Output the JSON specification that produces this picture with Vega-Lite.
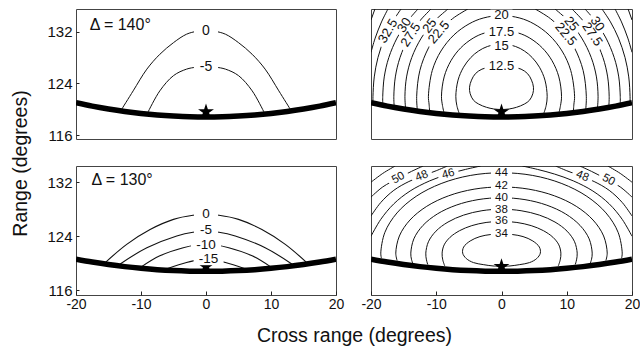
{
  "$schema": "https://vega.github.io/schema/vega-lite/v6.json",
  "padding": {"left": 9, "top": 8, "right": 9, "bottom": 2},
  "background": "white",
  "config": {
    "font": "Liberation Sans",
    "view": {"stroke": "#444", "strokeWidth": 1},
    "axis": {"labelFont": "Liberation Sans", "titleFont": "Liberation Sans", "labelFontSize": 15, "labelColor": "#111", "tickColor": "#222", "tickWidth": 1, "titleFontWeight": "normal", "titleFontSize": 19.5, "titleColor": "#111", "labelOverlap": false}
  },
  "datasets": {
    "baseTop": [
      {"x": -20, "y": 121.0}, {"x": -17.5, "y": 120.48}, {"x": -15, "y": 120.04}, {"x": -12.5, "y": 119.66}, {"x": -10, "y": 119.35}, {"x": -7.5, "y": 119.11}, {"x": -5, "y": 118.94}, {"x": -2.5, "y": 118.83}, {"x": 0, "y": 118.8},
      {"x": 2.5, "y": 118.83}, {"x": 5, "y": 118.94}, {"x": 7.5, "y": 119.11}, {"x": 10, "y": 119.35}, {"x": 12.5, "y": 119.66}, {"x": 15, "y": 120.04}, {"x": 17.5, "y": 120.48}, {"x": 20, "y": 121.0}
    ],
    "baseBot": [
      {"x": -20, "y": 120.6}, {"x": -17.5, "y": 120.18}, {"x": -15, "y": 119.81}, {"x": -12.5, "y": 119.5}, {"x": -10, "y": 119.25}, {"x": -7.5, "y": 119.05}, {"x": -5, "y": 118.91}, {"x": -2.5, "y": 118.83}, {"x": 0, "y": 118.8},
      {"x": 2.5, "y": 118.83}, {"x": 5, "y": 118.91}, {"x": 7.5, "y": 119.05}, {"x": 10, "y": 119.25}, {"x": 12.5, "y": 119.5}, {"x": 15, "y": 119.81}, {"x": 17.5, "y": 120.18}, {"x": 20, "y": 120.6}
    ],
    "tl": [
      {"c": "a", "x": -12.97, "y": 120.0}, {"c": "a", "x": -11.2, "y": 122.85}, {"c": "a", "x": -9.1, "y": 126.2}, {"c": "a", "x": -7.1, "y": 128.5}, {"c": "a", "x": -5.0, "y": 130.3}, {"c": "a", "x": -3.0, "y": 131.6}, {"c": "a", "x": -1.4, "y": 132.05}, {"c": "a", "x": 0, "y": 132.15}, {"c": "a", "x": 1.4, "y": 132.05}, {"c": "a", "x": 3.0, "y": 131.6}, {"c": "a", "x": 5.0, "y": 130.3}, {"c": "a", "x": 7.1, "y": 128.5}, {"c": "a", "x": 9.1, "y": 126.2}, {"c": "a", "x": 11.2, "y": 122.85}, {"c": "a", "x": 12.97, "y": 120.0},
      {"c": "b", "x": -8.9, "y": 119.6}, {"c": "b", "x": -7.1, "y": 122.85}, {"c": "b", "x": -5.0, "y": 125.2}, {"c": "b", "x": -3.0, "y": 126.2}, {"c": "b", "x": -1.5, "y": 126.5}, {"c": "b", "x": 0, "y": 126.6}, {"c": "b", "x": 1.5, "y": 126.5}, {"c": "b", "x": 3.0, "y": 126.2}, {"c": "b", "x": 5.0, "y": 125.2}, {"c": "b", "x": 7.1, "y": 122.85}, {"c": "b", "x": 8.9, "y": 119.6}
    ],
    "tlL": [
      {"t": "0", "x": 0, "y": 132.1, "a": 0}, {"t": "-5", "x": 0, "y": 126.5, "a": 0}
    ],
    "tr": [
      {"c": "12", "x": 0, "y": 119.95}, {"c": "12", "x": -1.2, "y": 120.05}, {"c": "12", "x": -2.3, "y": 120.3}, {"c": "12", "x": -3.5, "y": 120.8}, {"c": "12", "x": -4.3, "y": 121.4}, {"c": "12", "x": -4.8, "y": 122.4}, {"c": "12", "x": -4.9, "y": 123.4}, {"c": "12", "x": -4.6, "y": 124.5}, {"c": "12", "x": -4.0, "y": 125.5}, {"c": "12", "x": -3.0, "y": 126.2}, {"c": "12", "x": -1.6, "y": 126.55}, {"c": "12", "x": 0, "y": 126.65}, {"c": "12", "x": 1.6, "y": 126.55}, {"c": "12", "x": 3.0, "y": 126.2}, {"c": "12", "x": 4.0, "y": 125.5}, {"c": "12", "x": 4.6, "y": 124.5}, {"c": "12", "x": 4.9, "y": 123.4}, {"c": "12", "x": 4.8, "y": 122.4}, {"c": "12", "x": 4.3, "y": 121.4}, {"c": "12", "x": 3.5, "y": 120.8}, {"c": "12", "x": 2.3, "y": 120.3}, {"c": "12", "x": 1.2, "y": 120.05}, {"c": "12", "x": 0, "y": 119.95},
      {"c": "15", "x": -6.5, "y": 119.4}, {"c": "15", "x": -6.85, "y": 120.6}, {"c": "15", "x": -7.0, "y": 122}, {"c": "15", "x": -6.66, "y": 124.5}, {"c": "15", "x": -5.82, "y": 126.5}, {"c": "15", "x": -4.7, "y": 128}, {"c": "15", "x": -3.52, "y": 129}, {"c": "15", "x": -2.16, "y": 129.7}, {"c": "15", "x": 0, "y": 130.1}, {"c": "15", "x": 2.16, "y": 129.7}, {"c": "15", "x": 3.52, "y": 129}, {"c": "15", "x": 4.7, "y": 128}, {"c": "15", "x": 5.82, "y": 126.5}, {"c": "15", "x": 6.66, "y": 124.5}, {"c": "15", "x": 7.0, "y": 122}, {"c": "15", "x": 6.85, "y": 120.6}, {"c": "15", "x": 6.5, "y": 119.4},
      {"c": "17", "x": -8.8, "y": 119.4}, {"c": "17", "x": -9.05, "y": 120.6}, {"c": "17", "x": -9.2, "y": 122}, {"c": "17", "x": -8.79, "y": 125}, {"c": "17", "x": -7.75, "y": 127.5}, {"c": "17", "x": -6.24, "y": 129.5}, {"c": "17", "x": -4.34, "y": 131}, {"c": "17", "x": -2.55, "y": 131.8}, {"c": "17", "x": 0, "y": 132.2}, {"c": "17", "x": 2.55, "y": 131.8}, {"c": "17", "x": 4.34, "y": 131}, {"c": "17", "x": 6.24, "y": 129.5}, {"c": "17", "x": 7.75, "y": 127.5}, {"c": "17", "x": 8.79, "y": 125}, {"c": "17", "x": 9.2, "y": 122}, {"c": "17", "x": 9.05, "y": 120.6}, {"c": "17", "x": 8.8, "y": 119.4},
      {"c": "20", "x": -11.0, "y": 119.6}, {"c": "20", "x": -11.1, "y": 120.8}, {"c": "20", "x": -11.2, "y": 122}, {"c": "20", "x": -10.61, "y": 126}, {"c": "20", "x": -9.28, "y": 129}, {"c": "20", "x": -7.28, "y": 131.5}, {"c": "20", "x": -4.97, "y": 133.2}, {"c": "20", "x": -2.81, "y": 134.1}, {"c": "20", "x": 0, "y": 134.5}, {"c": "20", "x": 2.81, "y": 134.1}, {"c": "20", "x": 4.97, "y": 133.2}, {"c": "20", "x": 7.28, "y": 131.5}, {"c": "20", "x": 9.28, "y": 129}, {"c": "20", "x": 10.61, "y": 126}, {"c": "20", "x": 11.2, "y": 122}, {"c": "20", "x": 11.1, "y": 120.8}, {"c": "20", "x": 11.0, "y": 119.6},
      {"c": "22L", "x": -12.9, "y": 119.85}, {"c": "22L", "x": -13.0, "y": 122}, {"c": "22L", "x": -12.51, "y": 126}, {"c": "22L", "x": -11.18, "y": 129.5}, {"c": "22L", "x": -9.53, "y": 132}, {"c": "22L", "x": -7.51, "y": 134}, {"c": "22L", "x": -5.16, "y": 135.5},
      {"c": "22R", "x": 12.9, "y": 119.85}, {"c": "22R", "x": 13.0, "y": 122}, {"c": "22R", "x": 12.51, "y": 126}, {"c": "22R", "x": 11.18, "y": 129.5}, {"c": "22R", "x": 9.53, "y": 132}, {"c": "22R", "x": 7.51, "y": 134}, {"c": "22R", "x": 5.16, "y": 135.5},
      {"c": "25L", "x": -14.7, "y": 120.1}, {"c": "25L", "x": -14.8, "y": 122}, {"c": "25L", "x": -14.55, "y": 125}, {"c": "25L", "x": -13.75, "y": 128}, {"c": "25L", "x": -12.3, "y": 131}, {"c": "25L", "x": -10.42, "y": 133.5}, {"c": "25L", "x": -8.2, "y": 135.5},
      {"c": "25R", "x": 14.7, "y": 120.1}, {"c": "25R", "x": 14.8, "y": 122}, {"c": "25R", "x": 14.55, "y": 125}, {"c": "25R", "x": 13.75, "y": 128}, {"c": "25R", "x": 12.3, "y": 131}, {"c": "25R", "x": 10.42, "y": 133.5}, {"c": "25R", "x": 8.2, "y": 135.5},
      {"c": "27L", "x": -16.45, "y": 120.45}, {"c": "27L", "x": -16.5, "y": 122}, {"c": "27L", "x": -16.27, "y": 125}, {"c": "27L", "x": -15.55, "y": 128}, {"c": "27L", "x": -14.26, "y": 131}, {"c": "27L", "x": -12.65, "y": 133.5}, {"c": "27L", "x": -10.8, "y": 135.5},
      {"c": "27R", "x": 16.45, "y": 120.45}, {"c": "27R", "x": 16.5, "y": 122}, {"c": "27R", "x": 16.27, "y": 125}, {"c": "27R", "x": 15.55, "y": 128}, {"c": "27R", "x": 14.26, "y": 131}, {"c": "27R", "x": 12.65, "y": 133.5}, {"c": "27R", "x": 10.8, "y": 135.5},
      {"c": "30L", "x": -18.2, "y": 120.8}, {"c": "30L", "x": -18.2, "y": 122}, {"c": "30L", "x": -17.97, "y": 125}, {"c": "30L", "x": -17.27, "y": 128}, {"c": "30L", "x": -16.02, "y": 131}, {"c": "30L", "x": -14.49, "y": 133.5}, {"c": "30L", "x": -12.8, "y": 135.5},
      {"c": "30R", "x": 18.2, "y": 120.8}, {"c": "30R", "x": 18.2, "y": 122}, {"c": "30R", "x": 17.97, "y": 125}, {"c": "30R", "x": 17.27, "y": 128}, {"c": "30R", "x": 16.02, "y": 131}, {"c": "30R", "x": 14.49, "y": 133.5}, {"c": "30R", "x": 12.8, "y": 135.5},
      {"c": "32L", "x": -19.7, "y": 121.1}, {"c": "32L", "x": -19.7, "y": 122}, {"c": "32L", "x": -19.5, "y": 125}, {"c": "32L", "x": -18.93, "y": 128}, {"c": "32L", "x": -17.93, "y": 131}, {"c": "32L", "x": -16.7, "y": 133.5}, {"c": "32L", "x": -15.4, "y": 135.5},
      {"c": "32R", "x": 19.7, "y": 121.1}, {"c": "32R", "x": 19.7, "y": 122}, {"c": "32R", "x": 19.5, "y": 125}, {"c": "32R", "x": 18.93, "y": 128}, {"c": "32R", "x": 17.93, "y": 131}, {"c": "32R", "x": 16.7, "y": 133.5}, {"c": "32R", "x": 15.4, "y": 135.5},
      {"c": "35L", "x": -20, "y": 128.8}, {"c": "35L", "x": -19.36, "y": 131}, {"c": "35L", "x": -18.39, "y": 133.5}, {"c": "35L", "x": -17.4, "y": 135.5},
      {"c": "35R", "x": 20, "y": 128.8}, {"c": "35R", "x": 19.36, "y": 131}, {"c": "35R", "x": 18.39, "y": 133.5}, {"c": "35R", "x": 17.4, "y": 135.5},
      {"c": "37L", "x": -20, "y": 133.8}, {"c": "37L", "x": -19.4, "y": 135.5},
      {"c": "37R", "x": 20, "y": 133.8}, {"c": "37R", "x": 19.4, "y": 135.5}
    ],
    "trL": [
      {"t": "20", "x": 0, "y": 134.55, "a": 0}, {"t": "17.5", "x": 0, "y": 131.95, "a": 0}, {"t": "15", "x": 0, "y": 129.85, "a": 0}, {"t": "12.5", "x": 0, "y": 126.65, "a": 0},
      {"t": "32.5", "x": -17.4, "y": 132.1, "a": -60}, {"t": "30", "x": -14.9, "y": 133.0, "a": -57}, {"t": "27.5", "x": -13.9, "y": 131.5, "a": -57}, {"t": "25", "x": -11.0, "y": 132.9, "a": -52}, {"t": "22.5", "x": -9.6, "y": 131.9, "a": -50},
      {"t": "22.5", "x": 9.85, "y": 131.6, "a": 50}, {"t": "25", "x": 10.7, "y": 133.2, "a": 52}, {"t": "27.5", "x": 13.9, "y": 131.6, "a": 56}, {"t": "30", "x": 14.7, "y": 133.2, "a": 57}
    ],
    "bl": [
      {"c": "0", "x": -15.5, "y": 120.1}, {"c": "0", "x": -12.2, "y": 122.8}, {"c": "0", "x": -8.6, "y": 125.0}, {"c": "0", "x": -5.0, "y": 126.5}, {"c": "0", "x": -2.0, "y": 127.1}, {"c": "0", "x": 0, "y": 127.25}, {"c": "0", "x": 2.0, "y": 127.1}, {"c": "0", "x": 5.0, "y": 126.5}, {"c": "0", "x": 8.6, "y": 125.0}, {"c": "0", "x": 12.2, "y": 122.8}, {"c": "0", "x": 15.5, "y": 120.1},
      {"c": "5", "x": -13.2, "y": 119.9}, {"c": "5", "x": -9.1, "y": 122.3}, {"c": "5", "x": -4.5, "y": 124.05}, {"c": "5", "x": -2.0, "y": 124.6}, {"c": "5", "x": 0, "y": 124.75}, {"c": "5", "x": 2.0, "y": 124.6}, {"c": "5", "x": 4.5, "y": 124.05}, {"c": "5", "x": 9.1, "y": 122.3}, {"c": "5", "x": 13.2, "y": 119.9},
      {"c": "10", "x": -9.9, "y": 119.5}, {"c": "10", "x": -7.1, "y": 121.1}, {"c": "10", "x": -3.5, "y": 122.3}, {"c": "10", "x": -1.5, "y": 122.7}, {"c": "10", "x": 0, "y": 122.8}, {"c": "10", "x": 1.5, "y": 122.7}, {"c": "10", "x": 3.5, "y": 122.3}, {"c": "10", "x": 7.1, "y": 121.1}, {"c": "10", "x": 9.9, "y": 119.5},
      {"c": "15", "x": -6.0, "y": 119.2}, {"c": "15", "x": -3.0, "y": 120.1}, {"c": "15", "x": -1.2, "y": 120.5}, {"c": "15", "x": 0, "y": 120.6}, {"c": "15", "x": 1.2, "y": 120.5}, {"c": "15", "x": 3.0, "y": 120.1}, {"c": "15", "x": 6.0, "y": 119.2}
    ],
    "blL": [
      {"t": "0", "x": 0, "y": 127.3, "a": 0}, {"t": "-5", "x": 0, "y": 124.9, "a": 0}, {"t": "-10", "x": 0, "y": 122.75, "a": 0}, {"t": "-15", "x": 0.4, "y": 120.6, "a": 0}
    ],
    "br": [
      {"c": "34", "x": 0, "y": 119.55}, {"c": "34", "x": -1.3, "y": 119.6}, {"c": "34", "x": -2.8, "y": 119.8}, {"c": "34", "x": -4.3, "y": 120.1}, {"c": "34", "x": -5.4, "y": 120.7}, {"c": "34", "x": -5.95, "y": 121.5}, {"c": "34", "x": -5.8, "y": 122.4}, {"c": "34", "x": -4.8, "y": 123.3}, {"c": "34", "x": -3.3, "y": 123.95}, {"c": "34", "x": -1.7, "y": 124.25}, {"c": "34", "x": 0, "y": 124.35}, {"c": "34", "x": 1.7, "y": 124.25}, {"c": "34", "x": 3.3, "y": 123.95}, {"c": "34", "x": 4.8, "y": 123.3}, {"c": "34", "x": 5.8, "y": 122.4}, {"c": "34", "x": 5.95, "y": 121.5}, {"c": "34", "x": 5.4, "y": 120.7}, {"c": "34", "x": 4.3, "y": 120.1}, {"c": "34", "x": 2.8, "y": 119.8}, {"c": "34", "x": 1.3, "y": 119.6}, {"c": "34", "x": 0, "y": 119.55},
      {"c": "36", "x": -8.7, "y": 119.6}, {"c": "36", "x": -9.0, "y": 120.5}, {"c": "36", "x": -9.1, "y": 121.5}, {"c": "36", "x": -8.79, "y": 122.72}, {"c": "36", "x": -7.88, "y": 123.85}, {"c": "36", "x": -6.43, "y": 124.82}, {"c": "36", "x": -4.55, "y": 125.57}, {"c": "36", "x": -2.36, "y": 126.04}, {"c": "36", "x": 0, "y": 126.2}, {"c": "36", "x": 2.36, "y": 126.04}, {"c": "36", "x": 4.55, "y": 125.57}, {"c": "36", "x": 6.43, "y": 124.82}, {"c": "36", "x": 7.88, "y": 123.85}, {"c": "36", "x": 8.79, "y": 122.72}, {"c": "36", "x": 9.1, "y": 121.5}, {"c": "36", "x": 9.0, "y": 120.5}, {"c": "36", "x": 8.7, "y": 119.6},
      {"c": "38", "x": -11.3, "y": 119.8}, {"c": "38", "x": -11.5, "y": 120.5}, {"c": "38", "x": -11.6, "y": 121.5}, {"c": "38", "x": -11.2, "y": 123.18}, {"c": "38", "x": -10.05, "y": 124.75}, {"c": "38", "x": -8.2, "y": 126.1}, {"c": "38", "x": -5.8, "y": 127.13}, {"c": "38", "x": -3.0, "y": 127.78}, {"c": "38", "x": 0, "y": 128.0}, {"c": "38", "x": 3.0, "y": 127.78}, {"c": "38", "x": 5.8, "y": 127.13}, {"c": "38", "x": 8.2, "y": 126.1}, {"c": "38", "x": 10.05, "y": 124.75}, {"c": "38", "x": 11.2, "y": 123.18}, {"c": "38", "x": 11.6, "y": 121.5}, {"c": "38", "x": 11.5, "y": 120.5}, {"c": "38", "x": 11.3, "y": 119.8},
      {"c": "40", "x": -13.6, "y": 120.0}, {"c": "40", "x": -13.8, "y": 120.6}, {"c": "40", "x": -13.9, "y": 121.5}, {"c": "40", "x": -13.43, "y": 123.62}, {"c": "40", "x": -12.04, "y": 125.6}, {"c": "40", "x": -9.83, "y": 127.3}, {"c": "40", "x": -6.95, "y": 128.6}, {"c": "40", "x": -3.6, "y": 129.42}, {"c": "40", "x": 0, "y": 129.7}, {"c": "40", "x": 3.6, "y": 129.42}, {"c": "40", "x": 6.95, "y": 128.6}, {"c": "40", "x": 9.83, "y": 127.3}, {"c": "40", "x": 12.04, "y": 125.6}, {"c": "40", "x": 13.43, "y": 123.62}, {"c": "40", "x": 13.9, "y": 121.5}, {"c": "40", "x": 13.8, "y": 120.6}, {"c": "40", "x": 13.6, "y": 120.0},
      {"c": "42", "x": -16.0, "y": 120.4}, {"c": "42", "x": -16.2, "y": 121.5}, {"c": "42", "x": -15.65, "y": 124.04}, {"c": "42", "x": -14.03, "y": 126.4}, {"c": "42", "x": -11.46, "y": 128.43}, {"c": "42", "x": -8.1, "y": 129.99}, {"c": "42", "x": -4.2, "y": 130.97}, {"c": "42", "x": 0, "y": 131.3}, {"c": "42", "x": 4.2, "y": 130.97}, {"c": "42", "x": 8.1, "y": 129.99}, {"c": "42", "x": 11.46, "y": 128.43}, {"c": "42", "x": 14.03, "y": 126.4}, {"c": "42", "x": 15.65, "y": 124.04}, {"c": "42", "x": 16.2, "y": 121.5}, {"c": "42", "x": 16.0, "y": 120.4},
      {"c": "44", "x": -18.4, "y": 120.75}, {"c": "44", "x": -18.5, "y": 121.5}, {"c": "44", "x": -17.87, "y": 124.58}, {"c": "44", "x": -16.02, "y": 127.45}, {"c": "44", "x": -13.08, "y": 129.91}, {"c": "44", "x": -9.25, "y": 131.8}, {"c": "44", "x": -4.79, "y": 133.0}, {"c": "44", "x": 0, "y": 133.4}, {"c": "44", "x": 4.79, "y": 133.0}, {"c": "44", "x": 9.25, "y": 131.8}, {"c": "44", "x": 13.08, "y": 129.91}, {"c": "44", "x": 16.02, "y": 127.45}, {"c": "44", "x": 17.87, "y": 124.58}, {"c": "44", "x": 18.5, "y": 121.5}, {"c": "44", "x": 18.4, "y": 120.75},
      {"c": "46L", "x": -20, "y": 124.0}, {"c": "46L", "x": -18.5, "y": 126.5}, {"c": "46L", "x": -16.5, "y": 128.8}, {"c": "46L", "x": -14, "y": 130.7}, {"c": "46L", "x": -11, "y": 132.2}, {"c": "46L", "x": -8.15, "y": 133.2}, {"c": "46L", "x": -5.5, "y": 133.9}, {"c": "46L", "x": -3.2, "y": 134.4},
      {"c": "46R", "x": 20, "y": 124.0}, {"c": "46R", "x": 18.5, "y": 126.5}, {"c": "46R", "x": 16.5, "y": 128.8}, {"c": "46R", "x": 14, "y": 130.7}, {"c": "46R", "x": 11, "y": 132.2}, {"c": "46R", "x": 8.15, "y": 133.2}, {"c": "46R", "x": 5.5, "y": 133.9}, {"c": "46R", "x": 3.2, "y": 134.4},
      {"c": "48L", "x": -20, "y": 127.0}, {"c": "48L", "x": -18.5, "y": 129.0}, {"c": "48L", "x": -16.5, "y": 130.8}, {"c": "48L", "x": -14.2, "y": 132.1}, {"c": "48L", "x": -12.2, "y": 132.9}, {"c": "48L", "x": -10, "y": 133.7}, {"c": "48L", "x": -8.3, "y": 134.4},
      {"c": "48R", "x": 20, "y": 127.0}, {"c": "48R", "x": 18.5, "y": 129.0}, {"c": "48R", "x": 16.5, "y": 130.8}, {"c": "48R", "x": 14.2, "y": 132.1}, {"c": "48R", "x": 12.2, "y": 132.9}, {"c": "48R", "x": 10, "y": 133.7}, {"c": "48R", "x": 8.3, "y": 134.4},
      {"c": "50L", "x": -20, "y": 129.8}, {"c": "50L", "x": -18.2, "y": 131.3}, {"c": "50L", "x": -15.8, "y": 132.6}, {"c": "50L", "x": -13.8, "y": 133.6}, {"c": "50L", "x": -12.0, "y": 134.4},
      {"c": "50R", "x": 20, "y": 129.8}, {"c": "50R", "x": 18.2, "y": 131.3}, {"c": "50R", "x": 15.8, "y": 132.6}, {"c": "50R", "x": 13.8, "y": 133.6}, {"c": "50R", "x": 12.0, "y": 134.4},
      {"c": "52L", "x": -20, "y": 132.0}, {"c": "52L", "x": -18.2, "y": 133.3}, {"c": "52L", "x": -16.3, "y": 134.4},
      {"c": "52R", "x": 20, "y": 132.0}, {"c": "52R", "x": 18.2, "y": 133.3}, {"c": "52R", "x": 16.3, "y": 134.4}
    ],
    "brL": [
      {"t": "44", "x": 0, "y": 133.4, "a": 0}, {"t": "42", "x": 0, "y": 131.45, "a": 0}, {"t": "40", "x": 0, "y": 129.7, "a": 0}, {"t": "38", "x": 0, "y": 127.95, "a": 0}, {"t": "36", "x": 0, "y": 126.2, "a": 0}, {"t": "34", "x": 0, "y": 124.35, "a": 0},
      {"t": "50", "x": -15.8, "y": 132.6, "a": -28}, {"t": "48", "x": -12.2, "y": 132.9, "a": -22}, {"t": "46", "x": -8.15, "y": 133.2, "a": -15},
      {"t": "48", "x": 12.4, "y": 132.85, "a": 22}, {"t": "50", "x": 16.4, "y": 132.3, "a": 28}
    ]
  },
  "concat": [
    {
      "width": 260, "height": 130,
      "layer": [
        {"data": {"name": "tl"}, "mark": {"type": "line", "interpolate": "catmull-rom", "stroke": "#111", "strokeWidth": 1, "clip": true},
         "encoding": {
           "x": {"field": "x", "type": "quantitative", "scale": {"domain": [-20, 20], "nice": false, "zero": false}, "axis": null},
           "y": {"field": "y", "type": "quantitative", "scale": {"domain": [115.4, 135.5], "nice": false, "zero": false},
                 "axis": {"values": [116, 118, 120, 122, 124, 126, 128, 130, 132, 134], "labelExpr": "datum.value % 4 == 0 ? '' + datum.value : ''", "tickSize": -3, "labelPadding": 7, "domain": false, "grid": false,
                          "title": "Range (degrees)", "titleX": -50, "titleY": 154, "titleAngle": -90, "titleBaseline": "alphabetic", "titleAlign": "center"}},
           "detail": {"field": "c"}, "order": {"value": null}}},
        {"data": {"name": "baseTop"}, "mark": {"type": "line", "interpolate": "monotone", "stroke": "#000", "strokeWidth": 5.5, "clip": true},
         "encoding": {"x": {"field": "x", "type": "quantitative"}, "y": {"field": "y", "type": "quantitative"}}},
        {"data": {"values": [{"x": 0, "y": 119.6}]}, "mark": {"type": "point", "shape": "M0,-1L0.2245,-0.309L0.951,-0.309L0.363,0.118L0.588,0.809L0,0.382L-0.588,0.809L-0.363,0.118L-0.951,-0.309L-0.2245,-0.309Z", "size": 280, "filled": true, "color": "#000", "opacity": 1},
         "encoding": {"x": {"field": "x", "type": "quantitative"}, "y": {"field": "y", "type": "quantitative"}}},
        {"data": {"name": "tlL"}, "transform": [{"filter": "length(datum.t) <= 2"}], "mark": {"type": "point", "shape": "M-1,-0.55L1,-0.55L1,0.55L-1,0.55Z", "size": 576, "filled": true, "color": "white", "opacity": 1, "clip": true},
         "encoding": {"x": {"field": "x", "type": "quantitative"}, "y": {"field": "y", "type": "quantitative"}, "angle": {"field": "a", "type": "quantitative", "scale": null}}},
        {"data": {"name": "tlL"}, "mark": {"type": "text", "fontSize": 14, "fill": "#111", "clip": true},
         "encoding": {"x": {"field": "x", "type": "quantitative"}, "y": {"field": "y", "type": "quantitative"}, "text": {"field": "t"}, "angle": {"field": "a", "type": "quantitative", "scale": null}}},
        {"data": {"values": [{"t": "Δ = 140°", "x": -17.9, "y": 133.0}]}, "mark": {"type": "text", "fontSize": 16, "align": "left", "fill": "#111"},
         "encoding": {"x": {"field": "x", "type": "quantitative"}, "y": {"field": "y", "type": "quantitative"}, "text": {"field": "t"}}}
      ]
    },
    {
      "width": 261, "height": 130,
      "layer": [
        {"data": {"name": "tr"}, "mark": {"type": "line", "interpolate": "catmull-rom", "stroke": "#111", "strokeWidth": 1, "clip": true},
         "encoding": {
           "x": {"field": "x", "type": "quantitative", "scale": {"domain": [-20, 20], "nice": false, "zero": false}, "axis": null},
           "y": {"field": "y", "type": "quantitative", "scale": {"domain": [115.4, 135.5], "nice": false, "zero": false}, "axis": null},
           "detail": {"field": "c"}, "order": {"value": null}}},
        {"data": {"name": "baseTop"}, "mark": {"type": "line", "interpolate": "monotone", "stroke": "#000", "strokeWidth": 5.5, "clip": true},
         "encoding": {"x": {"field": "x", "type": "quantitative"}, "y": {"field": "y", "type": "quantitative"}}},
        {"data": {"values": [{"x": 0, "y": 119.6}]}, "mark": {"type": "point", "shape": "M0,-1L0.2245,-0.309L0.951,-0.309L0.363,0.118L0.588,0.809L0,0.382L-0.588,0.809L-0.363,0.118L-0.951,-0.309L-0.2245,-0.309Z", "size": 280, "filled": true, "color": "#000", "opacity": 1},
         "encoding": {"x": {"field": "x", "type": "quantitative"}, "y": {"field": "y", "type": "quantitative"}}},
        {"data": {"name": "trL"}, "transform": [{"filter": "length(datum.t) <= 2"}], "mark": {"type": "point", "shape": "M-1,-0.5L1,-0.5L1,0.5L-1,0.5Z", "size": 484, "filled": true, "color": "white", "opacity": 1, "clip": true},
         "encoding": {"x": {"field": "x", "type": "quantitative"}, "y": {"field": "y", "type": "quantitative"}, "angle": {"field": "a", "type": "quantitative", "scale": null}}},
        {"data": {"name": "trL"}, "transform": [{"filter": "length(datum.t) > 2"}], "mark": {"type": "point", "shape": "M-1,-0.33L1,-0.33L1,0.33L-1,0.33Z", "size": 1156, "filled": true, "color": "white", "opacity": 1, "clip": true},
         "encoding": {"x": {"field": "x", "type": "quantitative"}, "y": {"field": "y", "type": "quantitative"}, "angle": {"field": "a", "type": "quantitative", "scale": null}}},
        {"data": {"name": "trL"}, "mark": {"type": "text", "fontSize": 13, "fill": "#111", "clip": true},
         "encoding": {"x": {"field": "x", "type": "quantitative"}, "y": {"field": "y", "type": "quantitative"}, "text": {"field": "t"}, "angle": {"field": "a", "type": "quantitative", "scale": null}}}
      ]
    },
    {
      "width": 260, "height": 129,
      "layer": [
        {"data": {"name": "bl"}, "mark": {"type": "line", "interpolate": "catmull-rom", "stroke": "#111", "strokeWidth": 1.1, "clip": true},
         "encoding": {
           "x": {"field": "x", "type": "quantitative", "scale": {"domain": [-20, 20], "nice": false, "zero": false},
                 "axis": {"values": [-20, -15, -10, -5, 0, 5, 10, 15, 20], "labelExpr": "datum.value % 10 == 0 ? '' + datum.value : ''", "tickSize": -4, "labelPadding": 6, "labelFlush": false, "labelFontSize": 14, "domain": false, "grid": false,
                          "title": "Cross range (degrees)", "titleX": 278, "titleY": 46, "titleBaseline": "alphabetic", "titleAlign": "center", "titleAngle": 0}},
           "y": {"field": "y", "type": "quantitative", "scale": {"domain": [115.3, 134.4], "nice": false, "zero": false},
                 "axis": {"values": [116, 118, 120, 122, 124, 126, 128, 130, 132, 134], "labelExpr": "datum.value % 4 == 0 ? '' + datum.value : ''", "tickSize": -3, "labelPadding": 7, "domain": false, "grid": false, "title": null}},
           "detail": {"field": "c"}, "order": {"value": null}}},
        {"data": {"name": "baseBot"}, "mark": {"type": "line", "interpolate": "monotone", "stroke": "#000", "strokeWidth": 5.5, "clip": true},
         "encoding": {"x": {"field": "x", "type": "quantitative"}, "y": {"field": "y", "type": "quantitative"}}},
        {"data": {"values": [{"x": 0, "y": 119.5}]}, "mark": {"type": "point", "shape": "M0,-1L0.2245,-0.309L0.951,-0.309L0.363,0.118L0.588,0.809L0,0.382L-0.588,0.809L-0.363,0.118L-0.951,-0.309L-0.2245,-0.309Z", "size": 280, "filled": true, "color": "#000", "opacity": 1},
         "encoding": {"x": {"field": "x", "type": "quantitative"}, "y": {"field": "y", "type": "quantitative"}}},
        {"data": {"name": "blL"}, "transform": [{"filter": "length(datum.t) <= 2"}], "mark": {"type": "point", "shape": "M-1,-0.5L1,-0.5L1,0.5L-1,0.5Z", "size": 576, "filled": true, "color": "white", "opacity": 1, "clip": true},
         "encoding": {"x": {"field": "x", "type": "quantitative"}, "y": {"field": "y", "type": "quantitative"}}},
        {"data": {"name": "blL"}, "transform": [{"filter": "length(datum.t) > 2"}], "mark": {"type": "point", "shape": "M-1,-0.4L1,-0.4L1,0.4L-1,0.4Z", "size": 900, "filled": true, "color": "white", "opacity": 1, "clip": true},
         "encoding": {"x": {"field": "x", "type": "quantitative"}, "y": {"field": "y", "type": "quantitative"}}},
        {"data": {"name": "blL"}, "mark": {"type": "text", "fontSize": 13.5, "fill": "#111", "clip": true},
         "encoding": {"x": {"field": "x", "type": "quantitative"}, "y": {"field": "y", "type": "quantitative"}, "text": {"field": "t"}}},
        {"data": {"values": [{"t": "Δ = 130°", "x": -17.6, "y": 132.4}]}, "mark": {"type": "text", "fontSize": 16, "align": "left", "fill": "#111"},
         "encoding": {"x": {"field": "x", "type": "quantitative"}, "y": {"field": "y", "type": "quantitative"}, "text": {"field": "t"}}}
      ]
    },
    {
      "width": 261, "height": 129,
      "layer": [
        {"data": {"name": "br"}, "mark": {"type": "line", "interpolate": "catmull-rom", "stroke": "#111", "strokeWidth": 1, "clip": true},
         "encoding": {
           "x": {"field": "x", "type": "quantitative", "scale": {"domain": [-20, 20], "nice": false, "zero": false},
                 "axis": {"values": [-20, -15, -10, -5, 0, 5, 10, 15, 20], "labelExpr": "datum.value % 10 == 0 ? '' + datum.value : ''", "tickSize": -4, "labelPadding": 6, "labelFlush": false, "labelFontSize": 14, "domain": false, "grid": false, "title": null}},
           "y": {"field": "y", "type": "quantitative", "scale": {"domain": [115.3, 134.4], "nice": false, "zero": false}, "axis": null},
           "detail": {"field": "c"}, "order": {"value": null}}},
        {"data": {"name": "baseBot"}, "mark": {"type": "line", "interpolate": "monotone", "stroke": "#000", "strokeWidth": 5.5, "clip": true},
         "encoding": {"x": {"field": "x", "type": "quantitative"}, "y": {"field": "y", "type": "quantitative"}}},
        {"data": {"values": [{"x": 0, "y": 119.5}]}, "mark": {"type": "point", "shape": "M0,-1L0.2245,-0.309L0.951,-0.309L0.363,0.118L0.588,0.809L0,0.382L-0.588,0.809L-0.363,0.118L-0.951,-0.309L-0.2245,-0.309Z", "size": 280, "filled": true, "color": "#000", "opacity": 1},
         "encoding": {"x": {"field": "x", "type": "quantitative"}, "y": {"field": "y", "type": "quantitative"}}},
        {"data": {"name": "brL"}, "mark": {"type": "point", "shape": "M-1,-0.42L1,-0.42L1,0.42L-1,0.42Z", "size": 441, "filled": true, "color": "white", "opacity": 1, "clip": true},
         "encoding": {"x": {"field": "x", "type": "quantitative"}, "y": {"field": "y", "type": "quantitative"}, "angle": {"field": "a", "type": "quantitative", "scale": null}}},
        {"data": {"name": "brL"}, "mark": {"type": "text", "fontSize": 11.5, "fill": "#111", "clip": true},
         "encoding": {"x": {"field": "x", "type": "quantitative"}, "y": {"field": "y", "type": "quantitative"}, "text": {"field": "t"}, "angle": {"field": "a", "type": "quantitative", "scale": null}}}
      ]
    }
  ],
  "columns": 2,
  "spacing": {"row": 27, "column": 35},
  "bounds": "flush"
}
